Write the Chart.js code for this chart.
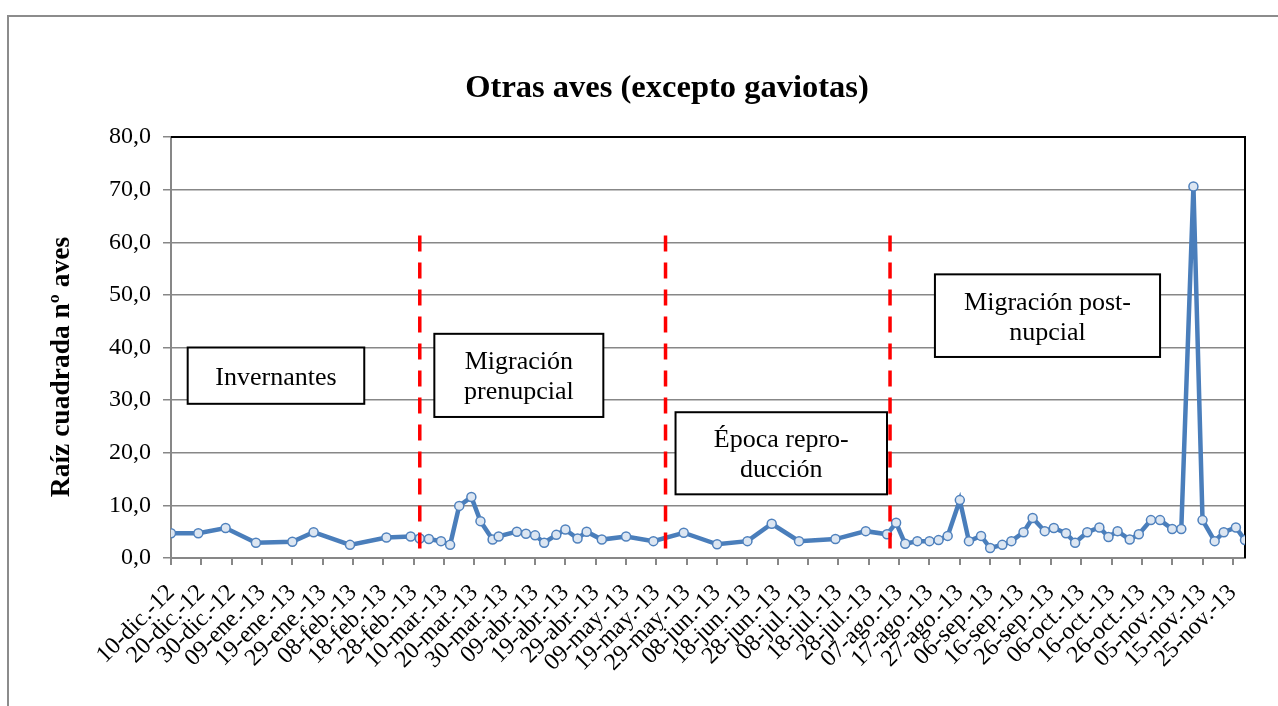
<!DOCTYPE html>
<html>
<head>
<meta charset="utf-8">
<script src="https://cdn.jsdelivr.net/npm/chart.js@4.4.1/dist/chart.umd.min.js"></script>
<style>
  html, body { margin: 0; padding: 0; background: #ffffff; }
  #wrap { width: 1278px; height: 706px; position: relative; overflow: hidden; }
  canvas { display: block; }
</style>
</head>
<body>
<div id="wrap"><canvas id="chart" width="1278" height="706"></canvas></div>
<script>
// ---- Data ----
const sampleDates = [
  '2012-12-10','2012-12-19','2012-12-28','2013-01-07','2013-01-19','2013-01-26','2013-02-07','2013-02-19',
  '2013-02-27','2013-03-02','2013-03-05','2013-03-09','2013-03-12','2013-03-15','2013-03-19','2013-03-22',
  '2013-03-26','2013-03-28','2013-04-03','2013-04-06','2013-04-09','2013-04-12','2013-04-16','2013-04-19',
  '2013-04-23','2013-04-26','2013-05-01','2013-05-09','2013-05-18','2013-05-28','2013-06-08','2013-06-18',
  '2013-06-26','2013-07-05','2013-07-17','2013-07-27','2013-08-03','2013-08-06','2013-08-09','2013-08-13',
  '2013-08-17','2013-08-20','2013-08-23','2013-08-27','2013-08-30','2013-09-03','2013-09-06','2013-09-10',
  '2013-09-13','2013-09-17','2013-09-20','2013-09-24','2013-09-27','2013-10-01','2013-10-04','2013-10-08',
  '2013-10-12','2013-10-15','2013-10-18','2013-10-22','2013-10-25','2013-10-29','2013-11-01','2013-11-05',
  '2013-11-08','2013-11-12','2013-11-15','2013-11-19','2013-11-22','2013-11-26','2013-11-29'
];
const sqrtBirds = [
  4.7, 4.7, 5.7, 2.9, 3.1, 4.9, 2.5, 3.9,
  4.1, 3.7, 3.6, 3.2, 2.5, 9.9, 11.6, 7.0,
  3.5, 4.1, 5.0, 4.6, 4.3, 2.9, 4.4, 5.4,
  3.7, 5.0, 3.5, 4.1, 3.2, 4.8, 2.6, 3.2,
  6.5, 3.2, 3.6, 5.1, 4.5, 6.7, 2.7, 3.2,
  3.2, 3.4, 4.2, 11.0, 3.2, 4.2, 1.9, 2.5,
  3.2, 4.9, 7.6, 5.1, 5.7, 4.7, 2.9, 4.9,
  5.8, 4.0, 5.1, 3.5, 4.5, 7.2, 7.2, 5.5,
  5.5, 70.6, 7.2, 3.2, 4.9, 5.8, 3.4
];
const monthAbbr = ['ene','feb','mar','abr','may','jun','jul','ago','sep','oct','nov','dic'];
const phaseBreakDates = ['2013-03-02', '2013-05-22', '2013-08-04'];
const phaseTexts = [
  ['Invernantes'],
  ['Migración', 'prenupcial'],
  ['Época repro-', 'ducción'],
  ['Migración post-', 'nupcial']
];
const chartTitle = 'Otras aves (excepto gaviotas)';
const yAxisTitle = 'Raíz cuadrada nº aves';

// ---- helpers ----
const DAY = 86400000;
function toUTC(s) { const p = s.split('-').map(Number); return Date.UTC(p[0], p[1] - 1, p[2]); }
const startMs = toUTC(sampleDates[0]);
function dayIndex(s) { return Math.round((toUTC(s) - startMs) / DAY); }
function fmtDay(v) {
  const d = new Date(startMs + v * DAY);
  const dd = String(d.getUTCDate()).padStart(2, '0');
  const yy = String(d.getUTCFullYear()).slice(2);
  return dd + '-' + monthAbbr[d.getUTCMonth()] + '.-' + yy;
}
const points = sampleDates.map((s, i) => ({ x: dayIndex(s), y: sqrtBirds[i] }));
const lastDay = dayIndex(sampleDates[sampleDates.length - 1]);

// annotation boxes in data units (day, value)
const boxes = [
  { x0: 5.5,   x1: 63.7,  yTop: 40.0, yBot: 29.3 },
  { x0: 86.8,  x1: 142.5, yTop: 42.6, yBot: 26.8 },
  { x0: 166.3, x1: 236.0, yTop: 27.7, yBot: 12.1 },
  { x0: 251.8, x1: 326.0, yTop: 53.9, yBot: 38.2 }
];

const FONT = "'Liberation Serif', 'Times New Roman', serif";

const decor = {
  id: 'decor',
  beforeDraw(chart) {
    const ctx = chart.ctx;
    ctx.save();
    ctx.fillStyle = '#ffffff';
    ctx.fillRect(0, 0, chart.width, chart.height);
    ctx.strokeStyle = '#8c8c8c';
    ctx.lineWidth = 2;
    ctx.strokeRect(8, 16, chart.width + 50, chart.height + 50);
    ctx.restore();
  },
  beforeDatasetsDraw(chart) {
    const ctx = chart.ctx, a = chart.chartArea;
    ctx.save();
    ctx.strokeStyle = '#000000';
    ctx.lineWidth = 2;
    ctx.beginPath();
    ctx.moveTo(a.left, a.top);
    ctx.lineTo(a.right, a.top);
    ctx.lineTo(a.right, a.bottom);
    ctx.stroke();
    ctx.restore();
  },
  afterDatasetsDraw(chart) {
    const ctx = chart.ctx, a = chart.chartArea;
    const xs = chart.scales.x, ys = chart.scales.y;
    ctx.save();
    // red dashed phase separators
    ctx.strokeStyle = '#ff0000';
    ctx.lineWidth = 3.5;
    ctx.setLineDash([16, 11]);
    phaseBreakDates.forEach(s => {
      const px = xs.getPixelForValue(dayIndex(s));
      ctx.beginPath();
      ctx.moveTo(px, ys.getPixelForValue(61.3));
      ctx.lineTo(px, a.bottom);
      ctx.stroke();
    });
    ctx.setLineDash([]);
    // text boxes
    boxes.forEach((b, i) => {
      const l = xs.getPixelForValue(b.x0), r = xs.getPixelForValue(b.x1);
      const t = ys.getPixelForValue(b.yTop), bt = ys.getPixelForValue(b.yBot);
      ctx.fillStyle = '#ffffff';
      ctx.fillRect(l, t, r - l, bt - t);
      ctx.strokeStyle = '#000000';
      ctx.lineWidth = 2;
      ctx.strokeRect(l, t, r - l, bt - t);
      ctx.fillStyle = '#000000';
      ctx.font = '26px ' + FONT;
      ctx.textAlign = 'center';
      ctx.textBaseline = 'alphabetic';
      const cx = (l + r) / 2, mid = (t + bt) / 2;
      const lines = phaseTexts[i];
      if (lines.length === 1) {
        ctx.fillText(lines[0], cx, mid + 9);
      } else {
        ctx.fillText(lines[0], cx, mid - 6);
        ctx.fillText(lines[1], cx, mid + 24);
      }
    });
    // title
    ctx.fillStyle = '#000000';
    ctx.font = 'bold 32.5px ' + FONT;
    ctx.textAlign = 'center';
    ctx.textBaseline = 'alphabetic';
    ctx.fillText(chartTitle, 667, 97);
    // y axis title
    ctx.translate(69, 367);
    ctx.rotate(-Math.PI / 2);
    ctx.font = 'bold 27.5px ' + FONT;
    ctx.fillText(yAxisTitle, 0, 0);
    ctx.restore();
  }
};

new Chart(document.getElementById('chart'), {
  type: 'line',
  data: {
    datasets: [{
      data: points,
      borderColor: '#4a7ebb',
      borderWidth: 4.5,
      tension: 0,
      pointRadius: 4.5,
      pointBorderWidth: 1.5,
      pointBackgroundColor: '#dce6f2',
      pointBorderColor: '#4f81bd'
    }]
  },
  options: {
    responsive: false,
    devicePixelRatio: 1,
    animation: false,
    layout: { padding: { top: 137, right: 33, left: 0, bottom: 0 } },
    plugins: { legend: { display: false }, tooltip: { enabled: false }, title: { display: false } },
    scales: {
      x: {
        type: 'linear',
        min: 0,
        max: lastDay,
        afterFit(s) { s.height = 148; },
        afterBuildTicks(s) {
          const t = [];
          for (let v = 0; v <= lastDay; v += 10) t.push({ value: v });
          s.ticks = t;
        },
        grid: { drawOnChartArea: false, drawTicks: true, tickLength: 7, color: '#878787', lineWidth: 2 },
        border: { display: true, color: '#878787', width: 2 },
        ticks: {
          autoSkip: false,
          minRotation: 45,
          maxRotation: 45,
          padding: 14,
          color: '#000000',
          font: { family: FONT, size: 24 },
          callback: v => fmtDay(v)
        }
      },
      y: {
        min: 0,
        max: 80,
        afterFit(s) { s.width = 171; },
        grid: { color: '#878787', lineWidth: 1.5, tickLength: 8 },
        border: { display: true, color: '#878787', width: 2 },
        ticks: {
          stepSize: 10,
          padding: 12,
          color: '#000000',
          font: { family: FONT, size: 24 },
          callback: v => v.toFixed(1).replace('.', ',')
        }
      }
    }
  },
  plugins: [decor]
});
</script>
</body>
</html>
